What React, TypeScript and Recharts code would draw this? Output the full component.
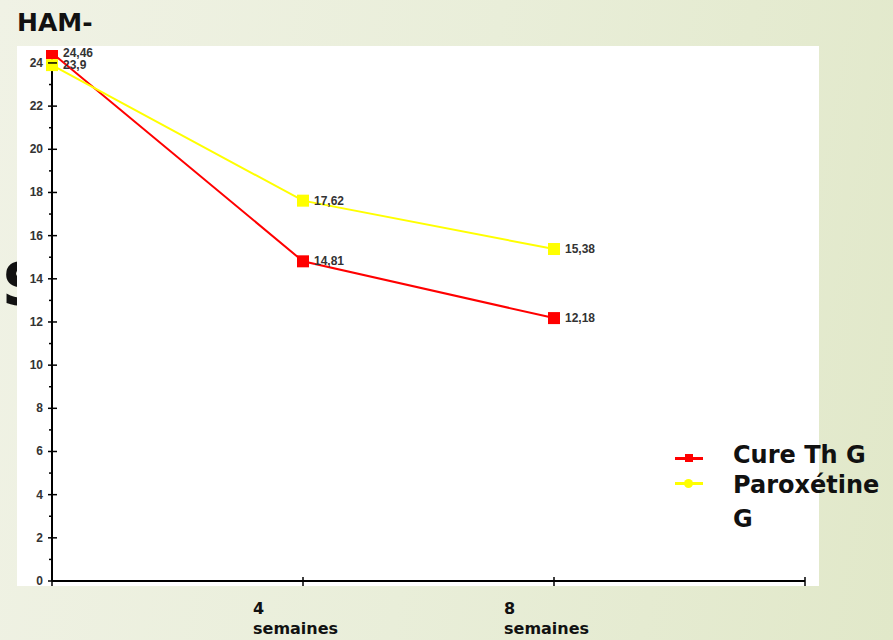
import React from 'react';
import { LineChart, Line, XAxis, YAxis, LabelList } from 'recharts';

const WEEKS = [0, 4, 8];
const CURE_TH_G = [24.46, 14.81, 12.18];
const PAROXETINE_G = [23.9, 17.62, 15.38];
const X_TICKS = [0, 4, 8, 12];
const X_LABELS: Record<number, string> = { 4: '4', 8: '8' };
const Y_TICKS = Array.from({ length: 25 }, (_, i) => i);

const data = WEEKS.map((week, i) => ({ week, cure: CURE_TH_G[i], parox: PAROXETINE_G[i] }));

const FONT = '"DejaVu Sans", sans-serif';
const SMALL_FONT = "Arial, 'Liberation Sans', sans-serif";
const AXIS_X = 52;
const AXIS_Y = 581;

const SquareDot = (props: any) => {
  const { cx, cy, fill } = props;
  if (cx == null || cy == null) return null;
  return <rect x={cx - 6} y={cy - 6} width={12} height={12} fill={fill} />;
};

const ValueLabel = (props: any) => {
  const { x, y, value } = props;
  return (
    <text x={x + 11} y={y} dominantBaseline="central" fontFamily={SMALL_FONT} fontWeight="bold" fontSize={12} fill="#333">
      {String(value).replace('.', ',')}
    </text>
  );
};

const XTick = (props: any) => {
  const { x, payload } = props;
  const label = X_LABELS[payload.value];
  return (
    <g>
      <line x1={x} x2={x} y1={AXIS_Y - 4} y2={AXIS_Y + 5} stroke="#000" strokeWidth={1.5} />
      {label && (
        <text x={x - 50} y={AXIS_Y + 33} fontFamily={FONT} fontWeight="bold" fontSize={16} fill="#111">
          <tspan x={x - 50}>{label}</tspan>
          <tspan x={x - 50} dy={20}>semaines</tspan>
        </text>
      )}
    </g>
  );
};

const YTick = (props: any) => {
  const { y, payload } = props;
  const major = payload.value % 2 === 0;
  return (
    <g>
      {major ? (
        <line x1={AXIS_X - 4} x2={AXIS_X + 5} y1={y} y2={y} stroke="#000" strokeWidth={1.5} />
      ) : (
        <line x1={AXIS_X - 3} x2={AXIS_X} y1={y} y2={y} stroke="#000" strokeWidth={1.5} />
      )}
      {major && (
        <text x={AXIS_X - 9} y={y} textAnchor="end" dominantBaseline="central" fontFamily={SMALL_FONT} fontWeight="bold" fontSize={12} fill="#333">
          {payload.value}
        </text>
      )}
    </g>
  );
};

export default function App() {
  return (
    <div style={{ position: 'fixed', left: 0, top: 0, width: 893, height: 640, overflow: 'hidden', background: 'linear-gradient(100deg, #f0f2e5 0%, #e9eed9 50%, #e1e8c9 100%)', fontFamily: FONT }}>
      <div style={{ position: 'absolute', left: 17, top: 8, fontSize: 25, fontWeight: 'bold', color: '#111' }}>HAM-</div>
      {/* slide title text hidden behind the chart panel, only its edge shows */}
      <div style={{ position: 'absolute', left: 0, top: 250, width: 17, height: 70, overflow: 'hidden' }}>
        <div style={{ position: 'absolute', left: 2, top: 6, fontSize: 58, fontWeight: 'bold', color: '#111', lineHeight: 1 }}>S</div>
      </div>
      <div style={{ position: 'absolute', left: 17, top: 46, width: 802, height: 540, background: '#fff' }} />
      <div style={{ position: 'absolute', left: 0, top: 0 }}>
        <LineChart width={893} height={640} data={data} margin={{ top: 50, right: 88, bottom: 29, left: 0 }}>
          <XAxis
            type="number"
            dataKey="week"
            domain={[0, 12]}
            ticks={X_TICKS}
            height={30}
            axisLine={{ stroke: '#000', strokeWidth: 2 }}
            tickLine={false}
            tick={<XTick />}
            interval={0}
          />
          <YAxis
            type="number"
            domain={[0, 24.6]}
            ticks={Y_TICKS}
            width={52}
            axisLine={{ stroke: '#000', strokeWidth: 2 }}
            tickLine={false}
            tick={<YTick />}
            interval={0}
            allowDataOverflow
          />
          <Line dataKey="cure" stroke="#ff0000" strokeWidth={2} fill="#ff0000" dot={<SquareDot />} isAnimationActive={false}>
            <LabelList dataKey="cure" content={<ValueLabel />} />
          </Line>
          <Line dataKey="parox" stroke="#ffff00" strokeWidth={2} fill="#ffff00" dot={<SquareDot />} isAnimationActive={false}>
            <LabelList dataKey="parox" content={<ValueLabel />} />
          </Line>
        </LineChart>
      </div>
      <div style={{ position: 'absolute', left: 675, top: 457, width: 28, height: 3, background: '#ff0000' }} />
      <div style={{ position: 'absolute', left: 685, top: 454, width: 8, height: 8, background: '#ff0000' }} />
      <div style={{ position: 'absolute', left: 675, top: 482, width: 28, height: 3, background: '#ffff00' }} />
      <div style={{ position: 'absolute', left: 684, top: 479, width: 9, height: 9, borderRadius: '50%', background: '#ffff00' }} />
      <div style={{ position: 'absolute', left: 733, top: 440, fontSize: 24, fontWeight: 'bold', color: '#111', lineHeight: '30px' }}>
        <div>Cure Th G</div>
        <div>Paroxétine</div>
        <div style={{ marginTop: 4 }}>G</div>
      </div>
    </div>
  );
}
